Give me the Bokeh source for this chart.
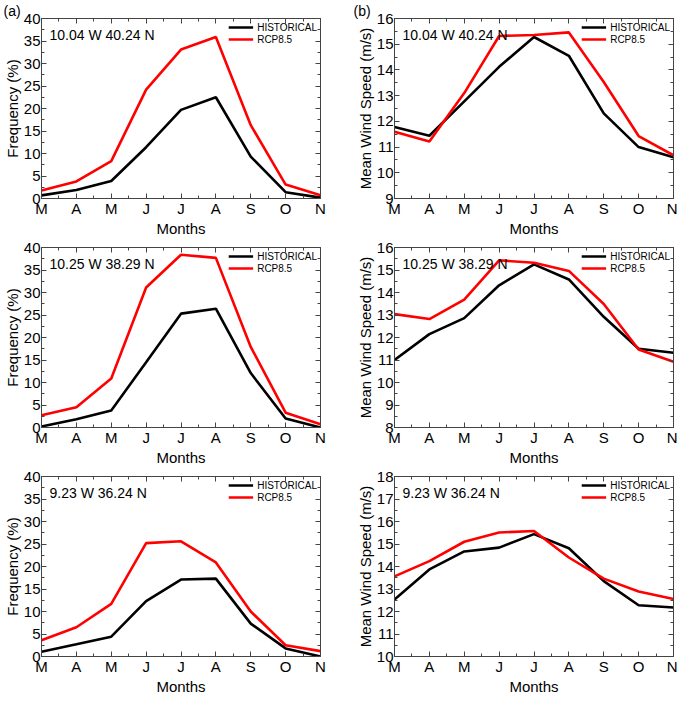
from bokeh.plotting import figure
from bokeh.models import Range1d, FixedTicker, LinearAxis, Label, Title, CustomLabelingPolicy
from bokeh.layouts import column, row
from bokeh.embed import file_html
from bokeh.resources import INLINE

months = ["M", "A", "M", "J", "J", "A", "S", "O", "N"]
x_idx = list(range(len(months)))

# Panel (a) top-left: frequency, 10.04 W 40.24 N
freq1_hist = [0.7, 1.9, 3.9, 11.4, 19.7, 22.5, 9.3, 1.4, 0.2]
freq1_rcp = [1.8, 3.8, 8.3, 24.2, 33.1, 35.9, 16.3, 3.1, 0.7]
# Panel (b) top-right: wind speed, 10.04 W 40.24 N
wind1_hist = [11.78, 11.44, 12.78, 14.12, 15.28, 14.55, 12.31, 11.0, 10.6]
wind1_rcp = [11.6, 11.22, 13.1, 15.32, 15.36, 15.46, 13.53, 11.43, 10.68]
# Middle row: 10.25 W 38.29 N
freq2_hist = [0.2, 1.85, 3.8, 14.5, 25.3, 26.4, 12.1, 2.0, 0.0]
freq2_rcp = [2.7, 4.5, 10.9, 31.1, 38.4, 37.7, 17.9, 3.3, 0.7]
wind2_hist = [11.0, 12.15, 12.86, 14.32, 15.25, 14.58, 12.92, 11.5, 11.32]
wind2_rcp = [13.04, 12.82, 13.68, 15.43, 15.32, 14.96, 13.49, 11.47, 10.92]
# Bottom row: 9.23 W 36.24 N
freq3_hist = [1.07, 2.7, 4.4, 12.3, 17.1, 17.3, 7.3, 1.8, 0.0]
freq3_rcp = [3.6, 6.5, 11.7, 25.2, 25.6, 20.9, 10.0, 2.5, 1.2]
wind3_hist = [12.53, 13.87, 14.67, 14.84, 15.44, 14.81, 13.35, 12.28, 12.18]
wind3_rcp = [13.56, 14.24, 15.1, 15.51, 15.58, 14.4, 13.46, 12.89, 12.56]

locations = ["10.04 W  40.24 N", "10.25 W  38.29 N", "9.23 W  36.24 N"]
series_names = ["HISTORICAL", "RCP8.5"]
series_colors = ["black", "#ff0000"]

FONT = "Liberation Sans"
AXC = "#444444"
FW, FH = 279, 180

NO_LABELS = CustomLabelingPolicy(code="""
try {
  for (const i of Array.from(indices)) { indices.unset(i) }
} catch (e) {}
return indices
""")


def style_axis(ax, show_labels):
    ax.axis_line_color = AXC
    ax.major_tick_line_color = AXC
    ax.minor_tick_line_color = AXC
    ax.major_tick_in = 5
    ax.major_tick_out = 0
    ax.minor_tick_in = 3
    ax.minor_tick_out = 0
    ax.major_label_text_font = FONT
    ax.axis_label_text_font = FONT
    ax.axis_label_text_font_style = "normal"
    ax.axis_label_text_font_size = "15px"
    ax.axis_label_text_color = "black"
    ax.major_label_text_color = "black"
    if show_labels:
        ax.major_label_text_font_size = "15px"
        ax.major_label_standoff = 1
        ax.axis_label_standoff = 0
    else:
        ax.major_label_text_font_size = "0px"
        ax.major_label_standoff = 0
        ax.axis_label_standoff = 0
        ax.major_label_policy = NO_LABELS


def make_panel(hist, rcp, y0, y1, ystep, ylabel, loc, letter, left_col):
    p = figure(frame_width=FW, frame_height=FH,
               x_range=Range1d(0, len(months) - 1), y_range=Range1d(y0, y1),
               output_backend="svg", toolbar_location=None, tools="",
               min_border_left=38 if left_col else 42,
               min_border_right=32 if left_col else 4,
               min_border_top=8,
               min_border_bottom=0,
               background_fill_color="white", border_fill_color="white")
    p.outline_line_color = AXC
    p.xgrid.visible = False
    p.ygrid.visible = False

    xt = FixedTicker(ticks=x_idx, minor_ticks=[i + 0.5 for i in x_idx[:-1]])
    yticks = list(range(y0, y1 + 1, ystep))
    yt = FixedTicker(ticks=yticks, minor_ticks=[v + ystep / 2 for v in yticks[:-1]])

    p.xaxis.ticker = xt
    p.xaxis.major_label_overrides = {i: m for i, m in enumerate(months)}
    p.xaxis.axis_label = "Months"
    p.yaxis.ticker = yt
    p.yaxis.axis_label = ylabel
    style_axis(p.xaxis[0], True)
    style_axis(p.yaxis[0], True)

    top = LinearAxis(ticker=xt)
    right = LinearAxis(ticker=yt)
    style_axis(top, False)
    style_axis(right, False)
    p.add_layout(top, "above")
    p.add_layout(right, "right")

    for vals, name, col in zip([hist, rcp], series_names, series_colors):
        p.line(x_idx, vals, line_color=col, line_width=2.6, legend_label=name)

    lg = p.legend[0]
    lg.location = "top_right"
    lg.border_line_color = None
    lg.background_fill_alpha = 0
    lg.label_text_font = FONT
    lg.label_text_font_size = "10px"
    lg.label_text_color = "black"
    lg.glyph_width = 25
    lg.glyph_height = 12
    lg.label_height = 12
    lg.label_standoff = 4
    lg.spacing = 0
    lg.padding = 4
    lg.margin = 3

    p.add_layout(Label(x=8, y=FH - 16, x_units="screen", y_units="screen",
                       text=loc, text_font=FONT, text_font_size="14px",
                       text_baseline="middle", text_color="black"))
    if letter:
        p.add_layout(Title(text=letter, align="left", offset=-(38 if left_col else 41),
                           text_font=FONT, text_font_size="14px", text_font_style="normal",
                           text_color="black", standoff=0), "above")
    return p


FREQ = "Frequency (%)"
WIND = "Mean Wind Speed (m/s)"

pa = make_panel(freq1_hist, freq1_rcp, 0, 40, 5, FREQ, locations[0], "(a)", True)
pb = make_panel(wind1_hist, wind1_rcp, 9, 16, 1, WIND, locations[0], "(b)", False)
pc = make_panel(freq2_hist, freq2_rcp, 0, 40, 5, FREQ, locations[1], None, True)
pd_ = make_panel(wind2_hist, wind2_rcp, 8, 16, 1, WIND, locations[1], None, False)
pe = make_panel(freq3_hist, freq3_rcp, 0, 40, 5, FREQ, locations[2], None, True)
pf = make_panel(wind3_hist, wind3_rcp, 10, 18, 1, WIND, locations[2], None, False)

layout = column(row(pa, pb, spacing=0), row(pc, pd_, spacing=0), row(pe, pf, spacing=0), spacing=0)

open("out.html", "w").write(file_html(layout, INLINE))
